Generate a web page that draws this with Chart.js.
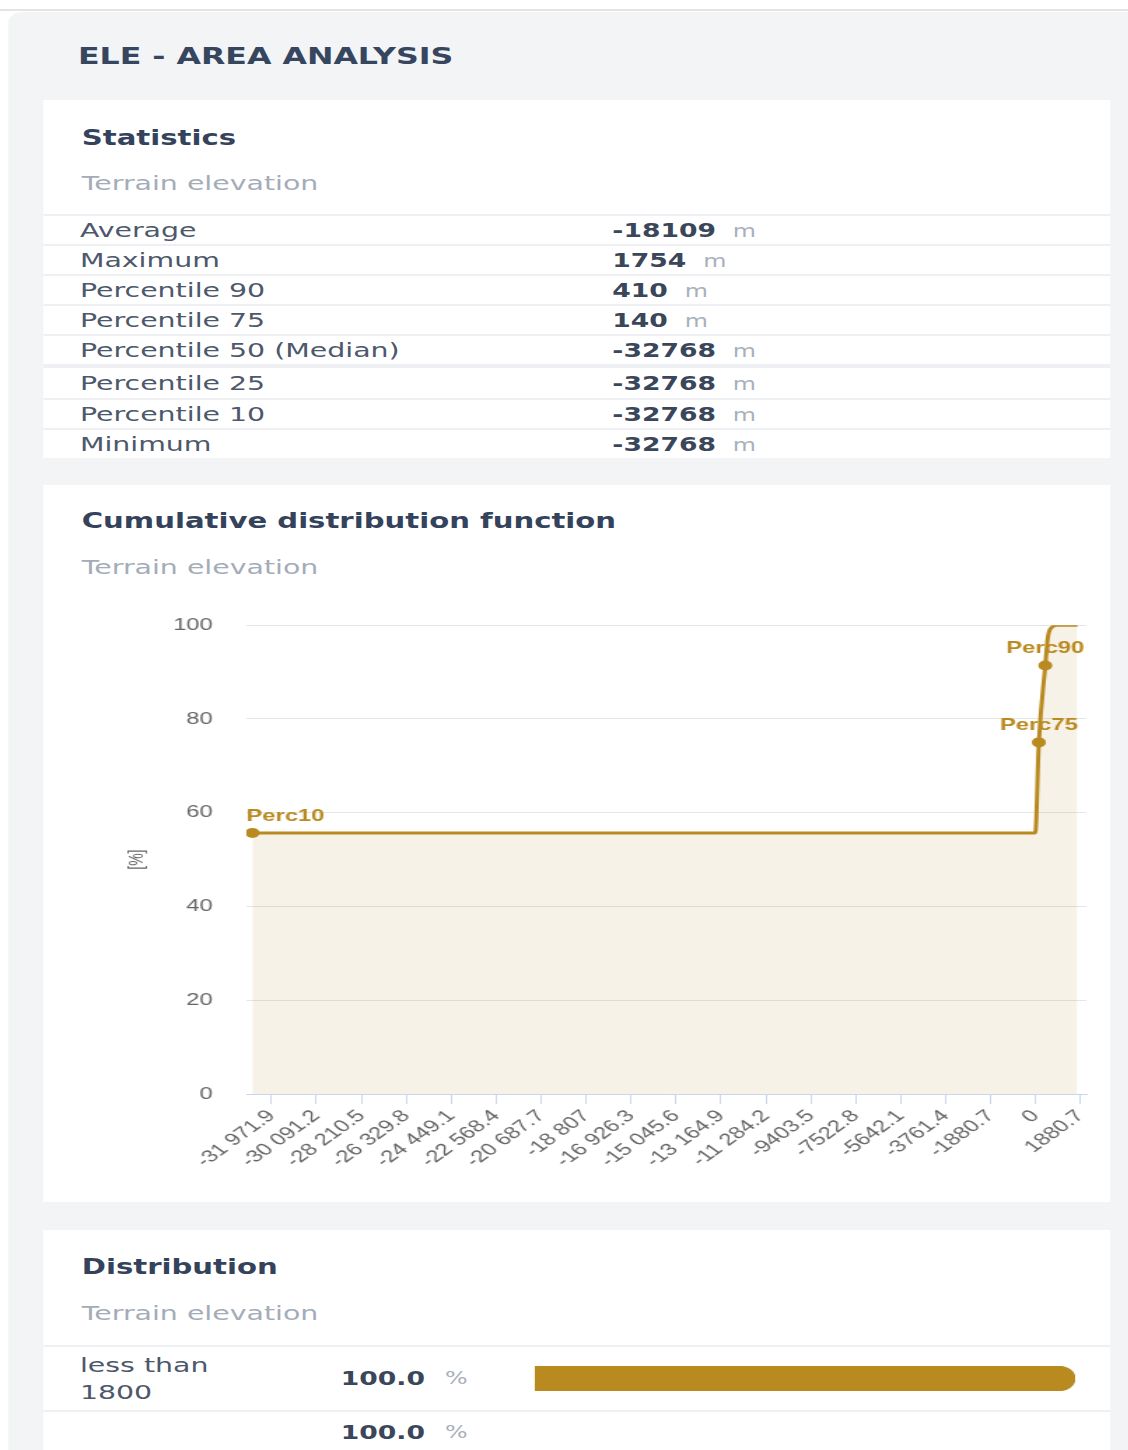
<!DOCTYPE html>
<html>
<head>
<meta charset="utf-8">
<title>ELE - Area analysis</title>
<script src="https://cdn.jsdelivr.net/npm/chart.js@4.4.1/dist/chart.umd.min.js"></script>
<style>
    html, body { margin: 0; padding: 0; background: #fff; width: 1128px; height: 1450px; overflow: hidden; }
    body { font-family: "DejaVu Sans", sans-serif; color: #4b5567; }
    #topline { position: absolute; left: 0; top: 9px; width: 1128px; height: 2px; background: #e3e4e6; }
    /* the reference screenshot is stretched horizontally, so the page is laid out narrow and scaled */
    #page { position: absolute; left: 0; top: 0; width: 806px; height: 1450px; transform: scaleX(1.4); transform-origin: 0 0; }
    .panel { position: absolute; left: 5.7px; top: 12px; width: 801px; height: 1450px; background: #f3f4f6; border-top-left-radius: 10px; }
    h1 { position: absolute; left: 55.7px; top: 43px; margin: 0; font-size: 22.6px; line-height: 26px; font-weight: bold; color: #36465f; white-space: nowrap; }
    .card { position: absolute; left: 31.4px; width: 761.4px; background: #fff; }
    .card h2 { position: absolute; left: 27px; margin: 0; font-size: 20.8px; line-height: 24px; font-weight: bold; color: #34435b; white-space: nowrap; }
    .card .sub { position: absolute; left: 27px; font-size: 20.3px; line-height: 24px; color: #a4acb8; white-space: nowrap; }
    .table { position: absolute; left: 0; top: 114px; width: 100%; }
    .row { position: relative; height: 30px; box-sizing: border-box; border-top: 2px solid #eef0f3; display: flex; align-items: center; }
    .row.gap { height: 34px; border-top-width: 4px; }
    .row .lbl { position: absolute; left: 25.7px; font-size: 20.3px; color: #4d586b; white-space: nowrap; }
    .row .val { position: absolute; left: 406px; white-space: nowrap; }
    .val b, .num { font-size: 19px; font-weight: bold; color: #3a4659; }
    .unit { font-size: 17px; color: #a9b0bb; margin-left: 12px; }
    .sep { position: absolute; left: 0; width: 100%; height: 2px; background: #eef0f3; }
    .abs { position: absolute; white-space: nowrap; }
</style>
</head>
<body>
<div id="topline"></div>
<div id="page">
    <div class="panel"></div>
    <h1>ELE - AREA ANALYSIS</h1>

    <div class="card" style="top:100px; height:358px;">
        <h2 style="top:26px;">Statistics</h2>
        <div class="sub" style="top:71px;">Terrain elevation</div>
        <div class="table" id="statsTable"></div>
    </div>

    <div class="card" style="top:485px; height:717px;">
        <h2 style="top:24px;">Cumulative distribution function</h2>
        <div class="sub" style="top:70px;">Terrain elevation</div>
        <canvas id="cdfChart" width="761" height="591" style="position:absolute; left:0; top:106px;"></canvas>
    </div>

    <div class="card" style="top:1230px; height:240px;">
        <h2 style="top:25px;">Distribution</h2>
        <div class="sub" style="top:71px;">Terrain elevation</div>
        <div class="sep" style="top:115px;"></div>
        <div class="abs" style="left:25.7px; top:121.5px; font-size:20.3px; line-height:27px; color:#4d586b;">less than<br>1800</div>
        <div class="abs num" style="left:212px; top:136px; line-height:24px;">100.0</div>
        <div class="abs" style="left:286.4px; top:136px; line-height:24px; font-size:17px; color:#a9b0bb;">%</div>
        <canvas id="distChart" width="386" height="25" style="position:absolute; left:350.7px; top:136px;"></canvas>
        <div class="sep" style="top:180px;"></div>
        <div class="abs num" style="left:212px; top:190px; line-height:24px;">100.0</div>
        <div class="abs" style="left:286.4px; top:190px; line-height:24px; font-size:17px; color:#a9b0bb;">%</div>
    </div>
</div>

<script>
// Statistics (m)
const statNames = ['Average', 'Maximum', 'Percentile 90', 'Percentile 75', 'Percentile 50 (Median)', 'Percentile 25', 'Percentile 10', 'Minimum'];
const statValues = [-18109, 1754, 410, 140, -32768, -32768, -32768, -32768];

// CDF points: elevation (m) -> cumulative %
const cdfElev = [-32768, -10, 140, 410, 520, 700, 900, 1754];
const cdfPct = [55.7, 55.7, 75.0, 91.4, 97.5, 99.6, 100, 100];
const markerLabels = ['Perc10', '', 'Perc75', 'Perc90', '', '', '', ''];

// x axis ticks as shown in the picture
const xTickValues = [-31971.9, -30091.2, -28210.5, -26329.8, -24449.1, -22568.4, -20687.7, -18807, -16926.3,
    -15045.6, -13164.9, -11284.2, -9403.5, -7522.8, -5642.1, -3761.4, -1880.7, 0, 1880.7];
const xTickLabels = ['-31 971.9', '-30 091.2', '-28 210.5', '-26 329.8', '-24 449.1', '-22 568.4', '-20 687.7', '-18 807', '-16 926.3',
    '-15 045.6', '-13 164.9', '-11 284.2', '-9403.5', '-7522.8', '-5642.1', '-3761.4', '-1880.7', '0', '1880.7'];
const yTickStep = 20;

// Distribution
const distClasses = ['less than 1800'];
const distPercent = [100.0];

const GOLD = '#b98a20';
const AXIS_FONT = '"Liberation Sans", Arial, sans-serif';

// tabela de estatisticas
const tbl = document.getElementById('statsTable');
statNames.forEach((nome, i) => {
    const row = document.createElement('div');
    row.className = 'row' + (i === 5 ? ' gap' : '');
    row.innerHTML = `<span class="lbl">${nome}</span><span class="val"><b>${statValues[i]}</b><span class="unit">m</span></span>`;
    tbl.appendChild(row);
});

const pointLabelPlugin = {
    id: 'pointLabels',
    afterDatasetsDraw(chart) {
        const { ctx, chartArea } = chart;
        const meta = chart.getDatasetMeta(0);
        ctx.save();
        ctx.font = 'bold 17px ' + AXIS_FONT;
        ctx.fillStyle = GOLD;
        ctx.textBaseline = 'middle';
        ctx.textAlign = 'left';
        meta.data.forEach((pt, i) => {
            const txt = markerLabels[i];
            if (!txt) return;
            const w = ctx.measureText(txt).width;
            let x = pt.x - w / 2;
            x = Math.max(chartArea.left, Math.min(x, chartArea.right - w));
            ctx.fillText(txt, x, pt.y - 17);
        });
        ctx.restore();
    }
};

new Chart(document.getElementById('cdfChart'), {
    type: 'line',
    data: {
        datasets: [{
            data: cdfElev.map((x, i) => ({ x: x, y: cdfPct[i] })),
            borderColor: GOLD,
            borderWidth: 3,
            backgroundColor: 'rgba(185, 138, 32, 0.11)',
            fill: 'origin',
            cubicInterpolationMode: 'monotone',
            pointRadius: ctx => markerLabels[ctx.dataIndex] ? 5 : 0,
            pointBackgroundColor: GOLD,
            pointBorderColor: GOLD,
            pointBorderWidth: 0
        }]
    },
    options: {
        responsive: false,
        animation: false,
        layout: { padding: { left: 55, top: 30, right: 16, bottom: 0 } },
        plugins: { legend: { display: false }, tooltip: { enabled: false } },
        scales: {
            x: {
                type: 'linear',
                min: -33020,
                max: 2130,
                afterBuildTicks: scale => { scale.ticks = xTickValues.map(v => ({ value: v })); },
                afterFit: scale => { scale.height = 88; },
                border: { display: true, color: '#ccd6eb', width: 1 },
                grid: { drawOnChartArea: false, drawTicks: true, tickLength: 10, color: '#ccd6eb' },
                ticks: {
                    autoSkip: false,
                    minRotation: 45,
                    maxRotation: 45,
                    padding: 2,
                    color: '#666666',
                    font: { family: AXIS_FONT, size: 17 },
                    callback: (val, i) => xTickLabels[i]
                }
            },
            y: {
                min: 0,
                max: 100,
                afterFit: scale => { scale.width = 90; },
                border: { display: false },
                grid: { color: '#e6e6e6', drawTicks: false },
                ticks: { stepSize: yTickStep, padding: 24, color: '#666666', font: { family: AXIS_FONT, size: 17 } },
                title: { display: true, text: '[%]', color: '#666666', padding: { top: 4, bottom: 0 }, font: { family: AXIS_FONT, size: 14 } }
            }
        }
    },
    plugins: [pointLabelPlugin]
});

new Chart(document.getElementById('distChart'), {
    type: 'bar',
    data: {
        labels: distClasses,
        datasets: [{
            data: distPercent,
            backgroundColor: GOLD,
            borderRadius: { topLeft: 0, bottomLeft: 0, topRight: 12.5, bottomRight: 12.5 },
            borderSkipped: false,
            barPercentage: 1,
            categoryPercentage: 1
        }]
    },
    options: {
        indexAxis: 'y',
        responsive: false,
        animation: false,
        layout: { padding: 0 },
        plugins: { legend: { display: false }, tooltip: { enabled: false } },
        scales: {
            x: { display: false, min: 0, max: 100 },
            y: { display: false }
        }
    }
});
</script>
</body>
</html>
